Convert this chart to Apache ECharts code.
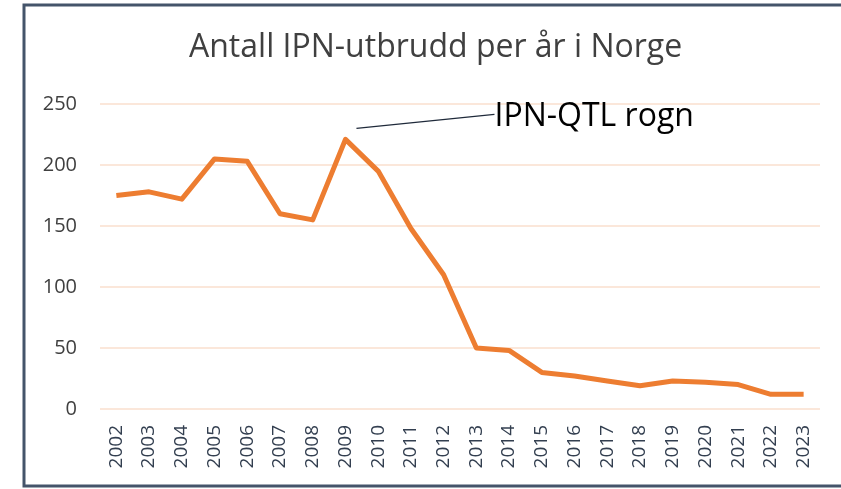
<!DOCTYPE html>
<html>
<head>
<meta charset="utf-8">
<script src="https://cdn.jsdelivr.net/npm/echarts@6/dist/echarts.min.js"></script>
<style>
  html, body { margin: 0; padding: 0; background: #fff; }
  #main { width: 841px; height: 489px; }
</style>
</head>
<body>
<div id="main"></div>
<script>
const years = ['2002', '2003', '2004', '2005', '2006', '2007', '2008', '2009', '2010', '2011', '2012',
  '2013', '2014', '2015', '2016', '2017', '2018', '2019', '2020', '2021', '2022', '2023']
const outbreaks = [175, 178, 172, 205, 203, 160, 155, 221, 195, 148, 110,
  50, 48, 30, 27, 23, 19, 23, 22, 20, 12, 12]
const noteYear = '2009'
const noteText = 'IPN-QTL rogn'

const chart = echarts.init(document.getElementById('main'))
const font = '"Open Sans", "Noto Sans", sans-serif'

chart.setOption({
  animation: false,
  title: {
    text: 'Antall IPN-utbrudd per år i Norge',
    left: 184,
    top: 27,
    textStyle: { fontFamily: font, fontSize: 32, fontWeight: 'normal', color: '#404040' }
  },
  grid: { left: 100, right: 21, top: 104, bottom: 80 },
  xAxis: {
    type: 'category',
    data: years,
    axisLine: { show: false },
    axisTick: { show: false },
    axisLabel: { rotate: 90, margin: 16, fontFamily: font, fontSize: 19, color: '#333f50' }
  },
  yAxis: {
    type: 'value',
    min: 0,
    max: 250,
    interval: 50,
    axisLine: { show: false },
    axisTick: { show: false },
    axisLabel: { margin: 23, fontFamily: font, fontSize: 20, color: '#404040' },
    splitLine: { lineStyle: { color: '#fbe7da', width: 2 } }
  },
  series: [{
    type: 'line',
    data: outbreaks,
    symbol: 'none',
    lineStyle: { color: '#ed7d31', width: 5, join: 'round' }
  }]
})

// annotation: leader line from just right of the 2009 peak to the label
const peak = chart.convertToPixel({ gridIndex: 0 }, [noteYear, outbreaks[years.indexOf(noteYear)]])
const start = [peak[0] + 11, peak[1] - 11]
const end = [start[0] + 138, start[1] - 14]
chart.setOption({
  graphic: [
    {
      type: 'rect',
      shape: { x: 24, y: 5, width: 830, height: 481 },
      style: { fill: 'none', stroke: '#44546a', lineWidth: 3 },
      silent: true
    },
    {
      type: 'line',
      shape: { x1: start[0], y1: start[1], x2: end[0], y2: end[1] },
      style: { stroke: '#1f2a3a', lineWidth: 1.2 }
    },
    {
      type: 'text',
      x: end[0],
      y: end[1] + 3,
      style: {
        text: noteText,
        fontFamily: font,
        fontSize: 32,
        fill: '#000',
        verticalAlign: 'middle'
      }
    }
  ]
})
</script>
</body>
</html>
